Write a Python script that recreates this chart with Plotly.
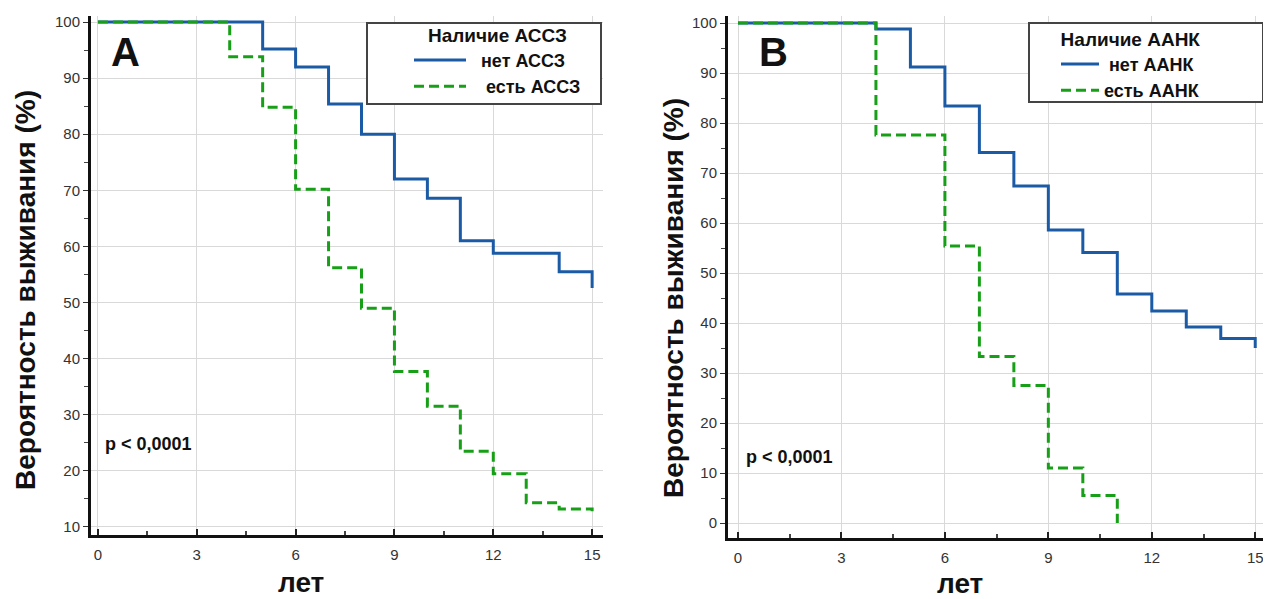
import plotly.graph_objects as go

# ---- data ----
years_A_no = [0, 5, 6, 7, 8, 9, 10, 11, 12, 14, 15]
surv_A_no = [100, 95.2, 92.0, 85.4, 80.0, 72.0, 68.6, 61.0, 58.8, 55.5, 52.6]
years_A_yes = [0, 4, 5, 6, 7, 8, 9, 10, 11, 12, 13, 14, 15]
surv_A_yes = [100, 93.8, 84.8, 70.2, 56.2, 49.0, 37.7, 31.5, 23.5, 19.5, 14.3, 13.2, 12.8]

years_B_no = [0, 4, 5, 6, 7, 8, 9, 10, 11, 12, 13, 14, 15]
surv_B_no = [100, 98.8, 91.2, 83.4, 74.1, 67.4, 58.6, 54.1, 45.8, 42.4, 39.2, 36.9, 35.0]
years_B_yes = [0, 4, 6, 7, 8, 9, 10, 11]
surv_B_yes = [100, 77.6, 55.4, 33.3, 27.5, 11.0, 5.5, 0.0]

x_ticks = [0, 3, 6, 9, 12, 15]
y_ticks_A = [10, 20, 30, 40, 50, 60, 70, 80, 90, 100]
y_ticks_B = [0, 10, 20, 30, 40, 50, 60, 70, 80, 90, 100]

labels_A = ["нет АССЗ", "есть АССЗ"]
labels_B = ["нет ААНК", "есть ААНК"]
legend_titles = ["Наличие АССЗ", "Наличие ААНК"]

BLUE = "#1b5ba6"
GREEN = "#17a017"
FONT = "Liberation Sans, Arial, sans-serif"
OFF = 8  # page body margin
W, H = 1271 - OFF, 599 - OFF


def px(x):
    return (x - OFF) / W


def py(y):
    return 1 - (y - OFF) / H


NB = "\u00a0"

fig = go.Figure()
fig.add_trace(go.Scatter(x=years_A_no, y=surv_A_no, mode="lines",
                         line=dict(color=BLUE, width=3, shape="hv"),
                         name="<b>" + NB * 2 + labels_A[0] + "</b>", xaxis="x", yaxis="y", legend="legend"))
fig.add_trace(go.Scatter(x=years_A_yes, y=surv_A_yes, mode="lines",
                         line=dict(color=GREEN, width=3, shape="hv", dash="10px,5px"),
                         name="<b>" + NB * 3 + labels_A[1] + "</b>", xaxis="x", yaxis="y", legend="legend"))
fig.add_trace(go.Scatter(x=years_B_no, y=surv_B_no, mode="lines",
                         line=dict(color=BLUE, width=3, shape="hv"),
                         name="<b>" + NB + labels_B[0] + "</b>", xaxis="x2", yaxis="y2", legend="legend2"))
fig.add_trace(go.Scatter(x=years_B_yes, y=surv_B_yes, mode="lines",
                         line=dict(color=GREEN, width=3, shape="hv", dash="10px,5px"),
                         name="<b>" + labels_B[1] + "</b>", xaxis="x2", yaxis="y2", legend="legend2"))

common_x = dict(
    tickvals=x_ticks, ticks="inside", ticklen=6, tickwidth=2, tickcolor="#222",
    showline=True, linecolor="#111", linewidth=3, showgrid=True, gridcolor="#d9d9d9", gridwidth=1,
    zeroline=False, tickfont=dict(family=FONT, size=15, color="#333"), ticklabelstandoff=4,
    minor=dict(dtick=1.5, tick0=0, ticks="inside", ticklen=4, tickcolor="#444", showgrid=False),
    automargin=False, fixedrange=True,
)
common_y = dict(
    ticks="outside", ticklen=5, tickwidth=1, tickcolor="#333",
    showline=True, linecolor="#111", linewidth=3, showgrid=True, gridcolor="#d9d9d9", gridwidth=1,
    zeroline=False, tickfont=dict(family=FONT, size=15, color="#333"),
    minor=dict(dtick=5, ticks="outside", ticklen=4, tickcolor="#444", showgrid=False),
    automargin=False, fixedrange=True,
)

leg_common = dict(
    xanchor="left", yanchor="top", bgcolor="rgba(0,0,0,0)", borderwidth=0,
    font=dict(family=FONT, size=18, color="#111"), tracegroupgap=0,
)

fig.update_layout(
    width=W, height=H,
    margin=dict(l=0, r=0, t=0, b=0),
    paper_bgcolor="white", plot_bgcolor="white",
    font=dict(family=FONT, color="#111"),
    xaxis=dict(domain=[px(91), px(603)], range=[-0.21, 15.33], anchor="y", **common_x),
    yaxis=dict(domain=[py(535), py(16)], range=[8.57, 101.07], tickvals=y_ticks_A, anchor="x", **common_y),
    xaxis2=dict(domain=[px(728), px(1268)], range=[-0.29, 15.37], anchor="y2", **common_x),
    yaxis2=dict(domain=[py(538), py(16)], range=[-3.0, 101.4], tickvals=y_ticks_B, anchor="x2", **common_y),
    legend=dict(
        x=px(409), y=py(17), itemwidth=52,
        title=dict(text="<b>" + legend_titles[0] + "</b>", side="top center",
                   font=dict(family=FONT, size=19, color="#111")),
        **leg_common,
    ),
    legend2=dict(
        x=px(1056), y=py(21), itemwidth=38,
        title=dict(text="<b>" + legend_titles[1] + "</b>", side="top center",
                   font=dict(family=FONT, size=19, color="#111")),
        **leg_common,
    ),
    showlegend=True,
)

shapes = []
for (x0, x1, y0, y1) in [(367, 601, 23, 104), (1029, 1263, 23, 102)]:
    shapes.append(dict(type="rect", xref="paper", yref="paper", x0=px(x0), x1=px(x1), y0=py(y1), y1=py(y0),
                       line=dict(color="#444", width=2), fillcolor="white", layer="above"))
fig.update_layout(shapes=shapes)

ann = []
for xc, yc in [(25, 290), (673, 298)]:
    ann.append(dict(text="<b>Вероятность выживания (%)</b>", x=px(xc), y=py(yc), xref="paper", yref="paper",
                    textangle=-90, showarrow=False, font=dict(family=FONT, size=28, color="#111"),
                    xanchor="center", yanchor="middle"))
for xc, yc in [(301, 582), (960, 583)]:
    ann.append(dict(text="<b>лет</b>", x=px(xc), y=py(yc), xref="paper", yref="paper", showarrow=False,
                    font=dict(family=FONT, size=28, color="#111"), xanchor="center", yanchor="middle"))
for t, xc in [("A", 125), ("B", 773)]:
    ann.append(dict(text="<b>" + t + "</b>", x=px(xc), y=py(52), xref="paper", yref="paper", showarrow=False,
                    font=dict(family=FONT, size=40, color="#111"), xanchor="center", yanchor="middle"))
for xl, yc in [(103, 444), (744, 457)]:
    ann.append(dict(text="<b>p < 0,0001</b>", x=px(xl), y=py(yc), xref="paper", yref="paper", showarrow=False,
                    font=dict(family=FONT, size=18, color="#111"), xanchor="left", yanchor="middle"))
fig.update_layout(annotations=ann)

fig.write_html("out.html")
